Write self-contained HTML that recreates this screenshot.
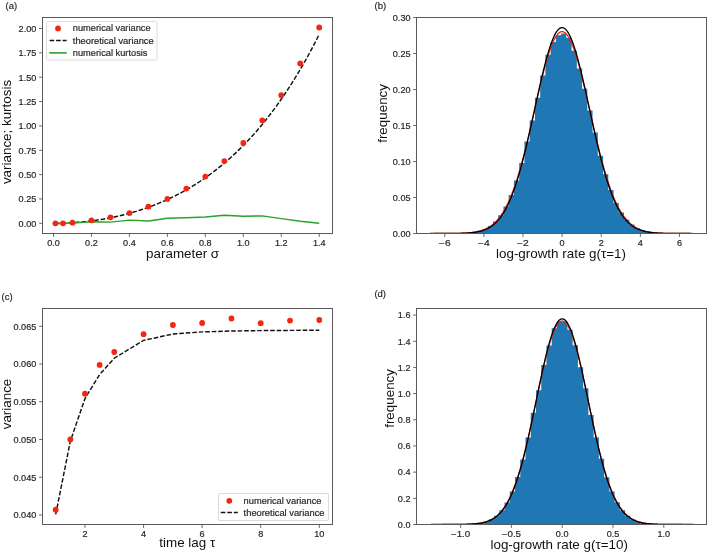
<!DOCTYPE html>
<html><head><meta charset="utf-8"><title>figure</title>
<style>html,body{margin:0;padding:0;background:#fff;overflow:hidden} svg{display:block;will-change:transform} text{font-family:"Liberation Sans",sans-serif}</style>
</head><body>
<svg width="708" height="554" viewBox="0 0 708 554" font-family="Liberation Sans, sans-serif">
<rect width="708" height="554" fill="#ffffff"/>
<defs><clipPath id="cb"><rect x="416.5" y="17.5" width="290" height="216"/></clipPath><clipPath id="cd"><rect x="416.5" y="308.5" width="290" height="216"/></clipPath></defs>
<polyline points="55.40,223.29 57.61,223.27 59.83,223.23 62.05,223.18 64.27,223.11 66.48,223.02 68.70,222.92 70.92,222.80 73.13,222.66 75.35,222.51 77.57,222.34 79.78,222.15 82.00,221.95 84.22,221.73 86.44,221.49 88.65,221.24 90.87,220.97 93.09,220.68 95.30,220.37 97.52,220.05 99.74,219.71 101.95,219.35 104.17,218.97 106.39,218.57 108.61,218.16 110.82,217.72 113.04,217.27 115.26,216.80 117.47,216.31 119.69,215.80 121.91,215.27 124.12,214.72 126.34,214.15 128.56,213.56 130.78,212.94 132.99,212.31 135.21,211.66 137.43,210.98 139.64,210.28 141.86,209.56 144.08,208.82 146.29,208.05 148.51,207.26 150.73,206.45 152.95,205.61 155.16,204.75 157.38,203.86 159.60,202.95 161.81,202.02 164.03,201.05 166.25,200.06 168.46,199.05 170.68,198.00 172.90,196.93 175.12,195.83 177.33,194.71 179.55,193.55 181.77,192.36 183.98,191.15 186.20,189.90 188.42,188.62 190.63,187.31 192.85,185.97 195.07,184.60 197.29,183.19 199.50,181.75 201.72,180.28 203.94,178.77 206.15,177.22 208.37,175.64 210.59,174.02 212.80,172.37 215.02,170.68 217.24,168.95 219.46,167.18 221.67,165.37 223.89,163.52 226.11,161.63 228.32,159.69 230.54,157.72 232.76,155.70 234.97,153.64 237.19,151.53 239.41,149.38 241.63,147.18 243.84,144.93 246.06,142.64 248.28,140.30 250.49,137.91 252.71,135.46 254.93,132.97 257.14,130.43 259.36,127.83 261.58,125.18 263.80,122.48 266.01,119.72 268.23,116.90 270.45,114.03 272.66,111.10 274.88,108.11 277.10,105.06 279.31,101.95 281.53,98.78 283.75,95.54 285.97,92.24 288.18,88.88 290.40,85.45 292.62,81.96 294.83,78.39 297.05,74.76 299.27,71.06 301.48,67.28 303.70,63.44 305.92,59.52 308.14,55.52 310.35,51.45 312.57,47.31 314.79,43.08 317.00,38.78 319.22,34.40" fill="none" stroke="#111" stroke-width="1.45" stroke-dasharray="4.6 1.9"/>
<polyline points="55.40,223.70 62.99,223.50 72.48,223.00 91.46,221.70 110.44,222.10 129.42,220.10 148.40,221.00 167.38,218.30 186.36,217.70 205.34,217.00 224.32,215.30 243.30,216.30 262.28,215.90 281.26,218.60 300.24,221.20 319.22,223.30" fill="none" stroke="#2ca02c" stroke-width="1.45" stroke-linejoin="round"/>
<circle cx="55.40" cy="223.30" r="2.9" fill="#f5260f"/>
<circle cx="62.99" cy="223.30" r="2.9" fill="#f5260f"/>
<circle cx="72.48" cy="222.70" r="2.9" fill="#f5260f"/>
<circle cx="91.46" cy="220.30" r="2.9" fill="#f5260f"/>
<circle cx="110.44" cy="217.30" r="2.9" fill="#f5260f"/>
<circle cx="129.42" cy="213.10" r="2.9" fill="#f5260f"/>
<circle cx="148.40" cy="206.70" r="2.9" fill="#f5260f"/>
<circle cx="167.38" cy="198.90" r="2.9" fill="#f5260f"/>
<circle cx="186.36" cy="188.60" r="2.9" fill="#f5260f"/>
<circle cx="205.34" cy="176.60" r="2.9" fill="#f5260f"/>
<circle cx="224.32" cy="161.10" r="2.9" fill="#f5260f"/>
<circle cx="243.30" cy="143.00" r="2.9" fill="#f5260f"/>
<circle cx="262.28" cy="120.30" r="2.9" fill="#f5260f"/>
<circle cx="281.26" cy="95.20" r="2.9" fill="#f5260f"/>
<circle cx="300.24" cy="63.50" r="2.9" fill="#f5260f"/>
<circle cx="319.22" cy="27.50" r="2.9" fill="#f5260f"/>
<rect x="42.5" y="17.5" width="290.0" height="216.0" fill="none" stroke="#5a5a5a" stroke-width="1"/>
<line x1="39.10" y1="223.30" x2="42.50" y2="223.30" stroke="#5a5a5a" stroke-width="0.9"/>
<text x="18.60" y="226.60" font-size="8.35" textLength="17.70" lengthAdjust="spacingAndGlyphs" fill="#262626" stroke="#262626" stroke-width="0.18">0.00</text>
<line x1="39.10" y1="198.95" x2="42.50" y2="198.95" stroke="#5a5a5a" stroke-width="0.9"/>
<text x="18.60" y="202.25" font-size="8.35" textLength="17.70" lengthAdjust="spacingAndGlyphs" fill="#262626" stroke="#262626" stroke-width="0.18">0.25</text>
<line x1="39.10" y1="174.60" x2="42.50" y2="174.60" stroke="#5a5a5a" stroke-width="0.9"/>
<text x="18.60" y="177.90" font-size="8.35" textLength="17.70" lengthAdjust="spacingAndGlyphs" fill="#262626" stroke="#262626" stroke-width="0.18">0.50</text>
<line x1="39.10" y1="150.25" x2="42.50" y2="150.25" stroke="#5a5a5a" stroke-width="0.9"/>
<text x="18.60" y="153.55" font-size="8.35" textLength="17.70" lengthAdjust="spacingAndGlyphs" fill="#262626" stroke="#262626" stroke-width="0.18">0.75</text>
<line x1="39.10" y1="125.90" x2="42.50" y2="125.90" stroke="#5a5a5a" stroke-width="0.9"/>
<text x="18.60" y="129.20" font-size="8.35" textLength="17.70" lengthAdjust="spacingAndGlyphs" fill="#262626" stroke="#262626" stroke-width="0.18">1.00</text>
<line x1="39.10" y1="101.55" x2="42.50" y2="101.55" stroke="#5a5a5a" stroke-width="0.9"/>
<text x="18.60" y="104.85" font-size="8.35" textLength="17.70" lengthAdjust="spacingAndGlyphs" fill="#262626" stroke="#262626" stroke-width="0.18">1.25</text>
<line x1="39.10" y1="77.20" x2="42.50" y2="77.20" stroke="#5a5a5a" stroke-width="0.9"/>
<text x="18.60" y="80.50" font-size="8.35" textLength="17.70" lengthAdjust="spacingAndGlyphs" fill="#262626" stroke="#262626" stroke-width="0.18">1.50</text>
<line x1="39.10" y1="52.85" x2="42.50" y2="52.85" stroke="#5a5a5a" stroke-width="0.9"/>
<text x="18.60" y="56.15" font-size="8.35" textLength="17.70" lengthAdjust="spacingAndGlyphs" fill="#262626" stroke="#262626" stroke-width="0.18">1.75</text>
<line x1="39.10" y1="28.50" x2="42.50" y2="28.50" stroke="#5a5a5a" stroke-width="0.9"/>
<text x="18.60" y="31.80" font-size="8.35" textLength="17.70" lengthAdjust="spacingAndGlyphs" fill="#262626" stroke="#262626" stroke-width="0.18">2.00</text>
<line x1="53.50" y1="233.50" x2="53.50" y2="236.90" stroke="#5a5a5a" stroke-width="0.9"/>
<text x="47.18" y="246.20" font-size="8.35" textLength="12.64" lengthAdjust="spacingAndGlyphs" fill="#262626" stroke="#262626" stroke-width="0.18">0.0</text>
<line x1="91.46" y1="233.50" x2="91.46" y2="236.90" stroke="#5a5a5a" stroke-width="0.9"/>
<text x="85.14" y="246.20" font-size="8.35" textLength="12.64" lengthAdjust="spacingAndGlyphs" fill="#262626" stroke="#262626" stroke-width="0.18">0.2</text>
<line x1="129.42" y1="233.50" x2="129.42" y2="236.90" stroke="#5a5a5a" stroke-width="0.9"/>
<text x="123.10" y="246.20" font-size="8.35" textLength="12.64" lengthAdjust="spacingAndGlyphs" fill="#262626" stroke="#262626" stroke-width="0.18">0.4</text>
<line x1="167.38" y1="233.50" x2="167.38" y2="236.90" stroke="#5a5a5a" stroke-width="0.9"/>
<text x="161.06" y="246.20" font-size="8.35" textLength="12.64" lengthAdjust="spacingAndGlyphs" fill="#262626" stroke="#262626" stroke-width="0.18">0.6</text>
<line x1="205.34" y1="233.50" x2="205.34" y2="236.90" stroke="#5a5a5a" stroke-width="0.9"/>
<text x="199.02" y="246.20" font-size="8.35" textLength="12.64" lengthAdjust="spacingAndGlyphs" fill="#262626" stroke="#262626" stroke-width="0.18">0.8</text>
<line x1="243.30" y1="233.50" x2="243.30" y2="236.90" stroke="#5a5a5a" stroke-width="0.9"/>
<text x="236.98" y="246.20" font-size="8.35" textLength="12.64" lengthAdjust="spacingAndGlyphs" fill="#262626" stroke="#262626" stroke-width="0.18">1.0</text>
<line x1="281.26" y1="233.50" x2="281.26" y2="236.90" stroke="#5a5a5a" stroke-width="0.9"/>
<text x="274.94" y="246.20" font-size="8.35" textLength="12.64" lengthAdjust="spacingAndGlyphs" fill="#262626" stroke="#262626" stroke-width="0.18">1.2</text>
<line x1="319.22" y1="233.50" x2="319.22" y2="236.90" stroke="#5a5a5a" stroke-width="0.9"/>
<text x="312.90" y="246.20" font-size="8.35" textLength="12.64" lengthAdjust="spacingAndGlyphs" fill="#262626" stroke="#262626" stroke-width="0.18">1.4</text>
<rect x="46.5" y="21.5" width="110.5" height="38.5" rx="1.5" fill="#fff" fill-opacity="0.8" stroke="#d6d6d6" stroke-width="0.9"/>
<circle cx="58.0" cy="28.4" r="2.9" fill="#f5260f"/>
<line x1="49.6" y1="40.5" x2="66.6" y2="40.5" stroke="#111" stroke-width="1.45" stroke-dasharray="4.6 1.9"/>
<line x1="49.3" y1="52.9" x2="66.8" y2="52.9" stroke="#2ca02c" stroke-width="1.6"/>
<text x="72.80" y="31.20" font-size="8.5" textLength="77.84" lengthAdjust="spacingAndGlyphs" fill="#262626" stroke="#262626" stroke-width="0.18">numerical variance</text>
<text x="72.80" y="43.50" font-size="8.5" textLength="80.93" lengthAdjust="spacingAndGlyphs" fill="#262626" stroke="#262626" stroke-width="0.18">theoretical variance</text>
<text x="72.80" y="55.80" font-size="8.5" textLength="74.69" lengthAdjust="spacingAndGlyphs" fill="#262626" stroke="#262626" stroke-width="0.18">numerical kurtosis</text>
<text x="10.9" y="132" font-size="13.4" text-anchor="middle" transform="rotate(-90 10.9 132)" fill="#111">variance; kurtosis</text>
<text x="182.6" y="258.4" font-size="13.4" text-anchor="middle" fill="#111">parameter σ</text>
<text x="5.6" y="8.9" font-size="9.5" fill="#222" stroke="#222" stroke-width="0.15">(a)</text>
<g clip-path="url(#cb)">
<path d="M430.07,233.50 L430.07,233.50 L435.31,233.50 L435.31,233.49 L440.55,233.49 L440.55,233.48 L445.80,233.48 L445.80,233.45 L451.04,233.45 L451.04,233.39 L456.28,233.39 L456.28,233.28 L461.52,233.28 L461.52,233.07 L466.76,233.07 L466.76,232.69 L472.01,232.69 L472.01,232.01 L477.25,232.01 L477.25,230.86 L482.49,230.86 L482.49,229.02 L487.73,229.02 L487.73,226.02 L492.97,226.02 L492.97,221.61 L498.22,221.61 L498.22,215.15 L503.46,215.15 L503.46,206.56 L508.70,206.56 L508.70,195.04 L513.94,195.04 L513.94,180.40 L519.19,180.40 L519.19,163.08 L524.43,163.08 L524.43,141.42 L529.67,141.42 L529.67,120.44 L534.91,120.44 L534.91,97.85 L540.15,97.85 L540.15,75.38 L545.40,75.38 L545.40,54.81 L550.64,54.81 L550.64,41.95 L555.88,41.95 L555.88,35.28 L561.12,35.28 L561.12,33.60 L566.36,33.60 L566.36,37.68 L571.61,37.68 L571.61,50.65 L576.85,50.65 L576.85,68.50 L582.09,68.50 L582.09,88.76 L587.33,88.76 L587.33,110.61 L592.57,110.61 L592.57,132.62 L597.82,132.62 L597.82,155.65 L603.06,155.65 L603.06,174.15 L608.30,174.15 L608.30,190.03 L613.54,190.03 L613.54,203.03 L618.78,203.03 L618.78,212.49 L624.03,212.49 L624.03,219.65 L629.27,219.65 L629.27,224.56 L634.51,224.56 L634.51,228.04 L639.75,228.04 L639.75,230.29 L645.00,230.29 L645.00,231.64 L650.24,231.64 L650.24,232.47 L655.48,232.47 L655.48,232.96 L660.72,232.96 L660.72,233.22 L665.96,233.22 L665.96,233.36 L671.21,233.36 L671.21,233.43 L676.45,233.43 L676.45,233.47 L681.69,233.47 L681.69,233.49 L686.93,233.49 L686.93,233.49 L692.17,233.49 L692.17,233.50 Z" fill="#1f77b4"/>
<polyline points="430.07,233.50 430.95,233.50 431.82,233.50 432.70,233.50 433.58,233.50 434.45,233.49 435.33,233.49 436.21,233.49 437.08,233.49 437.96,233.49 438.84,233.49 439.71,233.49 440.59,233.49 441.47,233.48 442.34,233.48 443.22,233.48 444.10,233.47 444.97,233.47 445.85,233.47 446.73,233.46 447.60,233.46 448.48,233.45 449.36,233.44 450.23,233.44 451.11,233.43 451.99,233.42 452.86,233.41 453.74,233.40 454.61,233.38 455.49,233.37 456.37,233.35 457.24,233.33 458.12,233.31 459.00,233.29 459.87,233.26 460.75,233.23 461.63,233.20 462.50,233.17 463.38,233.13 464.26,233.08 465.13,233.03 466.01,232.98 466.89,232.92 467.76,232.85 468.64,232.78 469.52,232.70 470.39,232.61 471.27,232.52 472.15,232.41 473.02,232.29 473.90,232.17 474.78,232.03 475.65,231.88 476.53,231.71 477.41,231.53 478.28,231.33 479.16,231.12 480.04,230.89 480.91,230.63 481.79,230.36 482.67,230.06 483.54,229.74 484.42,229.39 485.30,229.02 486.17,228.61 487.05,228.18 487.93,227.71 488.80,227.20 489.68,226.66 490.56,226.08 491.43,225.46 492.31,224.79 493.19,224.08 494.06,223.33 494.94,222.52 495.82,221.66 496.69,220.74 497.57,219.77 498.44,218.73 499.32,217.64 500.20,216.48 501.07,215.25 501.95,213.96 502.83,212.59 503.70,211.15 504.58,209.64 505.46,208.04 506.33,206.37 507.21,204.62 508.09,202.79 508.96,200.87 509.84,198.86 510.72,196.77 511.59,194.59 512.47,192.32 513.35,189.97 514.22,187.52 515.10,184.98 515.98,182.36 516.85,179.65 517.73,176.85 518.61,173.96 519.48,170.99 520.36,167.93 521.24,164.79 522.11,161.58 522.99,158.28 523.87,154.92 524.74,151.49 525.62,147.99 526.50,144.43 527.37,140.81 528.25,137.15 529.13,133.43 530.00,129.68 530.88,125.90 531.76,122.08 532.63,118.25 533.51,114.40 534.39,110.54 535.26,106.69 536.14,102.84 537.02,99.02 537.89,95.21 538.77,91.44 539.65,87.72 540.52,84.04 541.40,80.42 542.28,76.87 543.15,73.40 544.03,70.01 544.90,66.71 545.78,63.52 546.66,60.44 547.53,57.47 548.41,54.64 549.29,51.94 550.16,49.38 551.04,46.97 551.92,44.71 552.79,42.62 553.67,40.69 554.55,38.94 555.42,37.37 556.30,35.98 557.18,34.78 558.05,33.77 558.93,32.95 559.81,32.33 560.68,31.91 561.56,31.68 562.44,31.66 563.31,31.84 564.19,32.21 565.07,32.79 565.94,33.56 566.82,34.53 567.70,35.69 568.57,37.03 569.45,38.56 570.33,40.27 571.20,42.16 572.08,44.21 572.96,46.43 573.83,48.81 574.71,51.33 575.59,54.00 576.46,56.81 577.34,59.74 578.22,62.80 579.09,65.96 579.97,69.24 580.85,72.60 581.72,76.06 582.60,79.59 583.48,83.20 584.35,86.86 585.23,90.58 586.11,94.34 586.98,98.13 587.86,101.96 588.73,105.80 589.61,109.65 590.49,113.51 591.36,117.36 592.24,121.20 593.12,125.02 593.99,128.81 594.87,132.57 595.75,136.29 596.62,139.97 597.50,143.60 598.38,147.17 599.25,150.68 600.13,154.13 601.01,157.51 601.88,160.82 602.76,164.06 603.64,167.21 604.51,170.29 605.39,173.28 606.27,176.18 607.14,179.01 608.02,181.74 608.90,184.38 609.77,186.94 610.65,189.41 611.53,191.78 612.40,194.07 613.28,196.27 614.16,198.39 615.03,200.41 615.91,202.35 616.79,204.20 617.66,205.98 618.54,207.67 619.42,209.28 620.29,210.81 621.17,212.26 622.05,213.65 622.92,214.96 623.80,216.20 624.68,217.37 625.55,218.48 626.43,219.53 627.31,220.52 628.18,221.45 629.06,222.32 629.94,223.14 630.81,223.91 631.69,224.63 632.57,225.31 633.44,225.94 634.32,226.53 635.19,227.08 636.07,227.59 636.95,228.07 637.82,228.51 638.70,228.93 639.58,229.31 640.45,229.66 641.33,229.99 642.21,230.29 643.08,230.57 643.96,230.83 644.84,231.07 645.71,231.28 646.59,231.49 647.47,231.67 648.34,231.84 649.22,231.99 650.10,232.14 650.97,232.27 651.85,232.39 652.73,232.49 653.60,232.59 654.48,232.68 655.36,232.76 656.23,232.84 657.11,232.90 657.99,232.97 658.86,233.02 659.74,233.07 660.62,233.12 661.49,233.16 662.37,233.19 663.25,233.23 664.12,233.26 665.00,233.28 665.88,233.31 666.75,233.33 667.63,233.35 668.51,233.36 669.38,233.38 670.26,233.39 671.14,233.41 672.01,233.42 672.89,233.43 673.77,233.44 674.64,233.44 675.52,233.45 676.40,233.46 677.27,233.46 678.15,233.47 679.02,233.47 679.90,233.47 680.78,233.48 681.65,233.48 682.53,233.48 683.41,233.48 684.28,233.49 685.16,233.49 686.04,233.49 686.91,233.49 687.79,233.49 688.67,233.49 689.54,233.49 690.42,233.50 691.30,233.50 692.17,233.50" fill="none" stroke="#f0200a" stroke-width="1.25"/>
<polyline points="430.07,233.50 430.95,233.50 431.82,233.50 432.70,233.50 433.58,233.50 434.45,233.50 435.33,233.50 436.21,233.50 437.08,233.49 437.96,233.49 438.84,233.49 439.71,233.49 440.59,233.49 441.47,233.49 442.34,233.49 443.22,233.48 444.10,233.48 444.97,233.48 445.85,233.48 446.73,233.47 447.60,233.47 448.48,233.46 449.36,233.46 450.23,233.45 451.11,233.45 451.99,233.44 452.86,233.43 453.74,233.42 454.61,233.41 455.49,233.40 456.37,233.39 457.24,233.37 458.12,233.36 459.00,233.34 459.87,233.32 460.75,233.29 461.63,233.27 462.50,233.24 463.38,233.20 464.26,233.17 465.13,233.13 466.01,233.08 466.89,233.03 467.76,232.98 468.64,232.92 469.52,232.85 470.39,232.77 471.27,232.69 472.15,232.60 473.02,232.50 473.90,232.39 474.78,232.27 475.65,232.14 476.53,231.99 477.41,231.83 478.28,231.66 479.16,231.47 480.04,231.26 480.91,231.04 481.79,230.79 482.67,230.53 483.54,230.24 484.42,229.92 485.30,229.58 486.17,229.21 487.05,228.81 487.93,228.38 488.80,227.92 489.68,227.42 490.56,226.88 491.43,226.30 492.31,225.68 493.19,225.02 494.06,224.31 494.94,223.54 495.82,222.73 496.69,221.86 497.57,220.94 498.44,219.95 499.32,218.90 500.20,217.79 501.07,216.61 501.95,215.37 502.83,214.04 503.70,212.65 504.58,211.18 505.46,209.63 506.33,207.99 507.21,206.27 508.09,204.47 508.96,202.58 509.84,200.60 510.72,198.53 511.59,196.37 512.47,194.12 513.35,191.77 514.22,189.33 515.10,186.79 515.98,184.16 516.85,181.43 517.73,178.61 518.61,175.70 519.48,172.69 520.36,169.59 521.24,166.41 522.11,163.14 522.99,159.79 523.87,156.35 524.74,152.84 525.62,149.26 526.50,145.61 527.37,141.89 528.25,138.12 529.13,134.29 530.00,130.42 530.88,126.50 531.76,122.55 532.63,118.58 533.51,114.58 534.39,110.57 535.26,106.56 536.14,102.55 537.02,98.56 537.89,94.58 538.77,90.64 539.65,86.74 540.52,82.88 541.40,79.09 542.28,75.36 543.15,71.71 544.03,68.14 544.90,64.68 545.78,61.31 546.66,58.06 547.53,54.94 548.41,51.94 549.29,49.09 550.16,46.38 551.04,43.83 551.92,41.44 552.79,39.23 553.67,37.19 554.55,35.33 555.42,33.67 556.30,32.19 557.18,30.92 558.05,29.85 558.93,28.98 559.81,28.32 560.68,27.87 561.56,27.63 562.44,27.61 563.31,27.80 564.19,28.20 565.07,28.81 565.94,29.63 566.82,30.65 567.70,31.88 568.57,33.31 569.45,34.93 570.33,36.74 571.20,38.74 572.08,40.92 572.96,43.26 573.83,45.78 574.71,48.45 575.59,51.27 576.46,54.23 577.34,57.33 578.22,60.55 579.09,63.89 579.97,67.33 580.85,70.88 581.72,74.51 582.60,78.22 583.48,82.00 584.35,85.84 585.23,89.73 586.11,93.67 586.98,97.64 587.86,101.63 588.73,105.63 589.61,109.64 590.49,113.65 591.36,117.65 592.24,121.63 593.12,125.59 593.99,129.51 594.87,133.40 595.75,137.24 596.62,141.02 597.50,144.75 598.38,148.42 599.25,152.02 600.13,155.55 601.01,159.00 601.88,162.37 602.76,165.66 603.64,168.87 604.51,171.98 605.39,175.01 606.27,177.94 607.14,180.79 608.02,183.53 608.90,186.19 609.77,188.75 610.65,191.21 611.53,193.58 612.40,195.86 613.28,198.04 614.16,200.13 615.03,202.13 615.91,204.04 616.79,205.87 617.66,207.60 618.54,209.25 619.42,210.83 620.29,212.32 621.17,213.73 622.05,215.07 622.92,216.33 623.80,217.53 624.68,218.65 625.55,219.71 626.43,220.71 627.31,221.65 628.18,222.53 629.06,223.36 629.94,224.13 630.81,224.86 631.69,225.53 632.57,226.16 633.44,226.75 634.32,227.30 635.19,227.81 636.07,228.28 636.95,228.72 637.82,229.12 638.70,229.50 639.58,229.84 640.45,230.17 641.33,230.46 642.21,230.73 643.08,230.98 643.96,231.21 644.84,231.42 645.71,231.62 646.59,231.80 647.47,231.96 648.34,232.11 649.22,232.24 650.10,232.36 650.97,232.48 651.85,232.58 652.73,232.67 653.60,232.76 654.48,232.83 655.36,232.90 656.23,232.96 657.11,233.02 657.99,233.07 658.86,233.12 659.74,233.16 660.62,233.20 661.49,233.23 662.37,233.26 663.25,233.29 664.12,233.31 665.00,233.33 665.88,233.35 666.75,233.37 667.63,233.38 668.51,233.40 669.38,233.41 670.26,233.42 671.14,233.43 672.01,233.44 672.89,233.45 673.77,233.45 674.64,233.46 675.52,233.46 676.40,233.47 677.27,233.47 678.15,233.48 679.02,233.48 679.90,233.48 680.78,233.48 681.65,233.49 682.53,233.49 683.41,233.49 684.28,233.49 685.16,233.49 686.04,233.49 686.91,233.49 687.79,233.49 688.67,233.50 689.54,233.50 690.42,233.50 691.30,233.50 692.17,233.50" fill="none" stroke="#000" stroke-width="1.3"/>
</g>
<rect x="416.5" y="17.5" width="290.0" height="216.0" fill="none" stroke="#5a5a5a" stroke-width="1"/>
<line x1="413.10" y1="233.50" x2="416.50" y2="233.50" stroke="#5a5a5a" stroke-width="0.9"/>
<text x="392.80" y="236.80" font-size="8.35" textLength="17.70" lengthAdjust="spacingAndGlyphs" fill="#262626" stroke="#262626" stroke-width="0.18">0.00</text>
<line x1="413.10" y1="197.50" x2="416.50" y2="197.50" stroke="#5a5a5a" stroke-width="0.9"/>
<text x="392.80" y="200.80" font-size="8.35" textLength="17.70" lengthAdjust="spacingAndGlyphs" fill="#262626" stroke="#262626" stroke-width="0.18">0.05</text>
<line x1="413.10" y1="161.50" x2="416.50" y2="161.50" stroke="#5a5a5a" stroke-width="0.9"/>
<text x="392.80" y="164.80" font-size="8.35" textLength="17.70" lengthAdjust="spacingAndGlyphs" fill="#262626" stroke="#262626" stroke-width="0.18">0.10</text>
<line x1="413.10" y1="125.50" x2="416.50" y2="125.50" stroke="#5a5a5a" stroke-width="0.9"/>
<text x="392.80" y="128.80" font-size="8.35" textLength="17.70" lengthAdjust="spacingAndGlyphs" fill="#262626" stroke="#262626" stroke-width="0.18">0.15</text>
<line x1="413.10" y1="89.50" x2="416.50" y2="89.50" stroke="#5a5a5a" stroke-width="0.9"/>
<text x="392.80" y="92.80" font-size="8.35" textLength="17.70" lengthAdjust="spacingAndGlyphs" fill="#262626" stroke="#262626" stroke-width="0.18">0.20</text>
<line x1="413.10" y1="53.50" x2="416.50" y2="53.50" stroke="#5a5a5a" stroke-width="0.9"/>
<text x="392.80" y="56.80" font-size="8.35" textLength="17.70" lengthAdjust="spacingAndGlyphs" fill="#262626" stroke="#262626" stroke-width="0.18">0.25</text>
<line x1="413.10" y1="17.50" x2="416.50" y2="17.50" stroke="#5a5a5a" stroke-width="0.9"/>
<text x="392.80" y="20.80" font-size="8.35" textLength="17.70" lengthAdjust="spacingAndGlyphs" fill="#262626" stroke="#262626" stroke-width="0.18">0.30</text>
<line x1="444.74" y1="233.50" x2="444.74" y2="236.90" stroke="#5a5a5a" stroke-width="0.9"/>
<text x="438.88" y="246.20" font-size="8.35" textLength="11.72" lengthAdjust="spacingAndGlyphs" fill="#262626" stroke="#262626" stroke-width="0.18">−6</text>
<line x1="483.86" y1="233.50" x2="483.86" y2="236.90" stroke="#5a5a5a" stroke-width="0.9"/>
<text x="478.00" y="246.20" font-size="8.35" textLength="11.72" lengthAdjust="spacingAndGlyphs" fill="#262626" stroke="#262626" stroke-width="0.18">−4</text>
<line x1="522.98" y1="233.50" x2="522.98" y2="236.90" stroke="#5a5a5a" stroke-width="0.9"/>
<text x="517.12" y="246.20" font-size="8.35" textLength="11.72" lengthAdjust="spacingAndGlyphs" fill="#262626" stroke="#262626" stroke-width="0.18">−2</text>
<line x1="562.10" y1="233.50" x2="562.10" y2="236.90" stroke="#5a5a5a" stroke-width="0.9"/>
<text x="559.57" y="246.20" font-size="8.35" textLength="5.06" lengthAdjust="spacingAndGlyphs" fill="#262626" stroke="#262626" stroke-width="0.18">0</text>
<line x1="601.22" y1="233.50" x2="601.22" y2="236.90" stroke="#5a5a5a" stroke-width="0.9"/>
<text x="598.69" y="246.20" font-size="8.35" textLength="5.06" lengthAdjust="spacingAndGlyphs" fill="#262626" stroke="#262626" stroke-width="0.18">2</text>
<line x1="640.34" y1="233.50" x2="640.34" y2="236.90" stroke="#5a5a5a" stroke-width="0.9"/>
<text x="637.81" y="246.20" font-size="8.35" textLength="5.06" lengthAdjust="spacingAndGlyphs" fill="#262626" stroke="#262626" stroke-width="0.18">4</text>
<line x1="679.46" y1="233.50" x2="679.46" y2="236.90" stroke="#5a5a5a" stroke-width="0.9"/>
<text x="676.93" y="246.20" font-size="8.35" textLength="5.06" lengthAdjust="spacingAndGlyphs" fill="#262626" stroke="#262626" stroke-width="0.18">6</text>
<text x="386.9" y="113.4" font-size="13.4" text-anchor="middle" transform="rotate(-90 386.9 113.4)" fill="#111">frequency</text>
<text x="561" y="258.4" font-size="13.4" text-anchor="middle" fill="#111">log-growth rate g(τ=1)</text>
<text x="374.6" y="8.6" font-size="9.5" fill="#222" stroke="#222" stroke-width="0.15">(b)</text>
<polyline points="55.70,514.40 70.34,441.20 84.99,398.50 99.64,374.50 114.28,358.20 143.57,340.40 172.86,334.00 202.15,331.90 231.44,331.00 260.73,330.60 290.02,330.40 319.31,330.20" fill="none" stroke="#111" stroke-width="1.45" stroke-dasharray="4.6 1.9"/>
<circle cx="55.70" cy="509.70" r="2.9" fill="#f5260f"/>
<circle cx="70.34" cy="439.40" r="2.9" fill="#f5260f"/>
<circle cx="84.99" cy="393.70" r="2.9" fill="#f5260f"/>
<circle cx="99.64" cy="364.90" r="2.9" fill="#f5260f"/>
<circle cx="114.28" cy="352.00" r="2.9" fill="#f5260f"/>
<circle cx="143.57" cy="334.20" r="2.9" fill="#f5260f"/>
<circle cx="172.86" cy="325.00" r="2.9" fill="#f5260f"/>
<circle cx="202.15" cy="323.00" r="2.9" fill="#f5260f"/>
<circle cx="231.44" cy="318.50" r="2.9" fill="#f5260f"/>
<circle cx="260.73" cy="323.20" r="2.9" fill="#f5260f"/>
<circle cx="290.02" cy="320.60" r="2.9" fill="#f5260f"/>
<circle cx="319.31" cy="320.00" r="2.9" fill="#f5260f"/>
<rect x="42.5" y="308.5" width="290.0" height="216.0" fill="none" stroke="#5a5a5a" stroke-width="1"/>
<line x1="39.10" y1="515.00" x2="42.50" y2="515.00" stroke="#5a5a5a" stroke-width="0.9"/>
<text x="13.54" y="518.30" font-size="8.35" textLength="22.76" lengthAdjust="spacingAndGlyphs" fill="#262626" stroke="#262626" stroke-width="0.18">0.040</text>
<line x1="39.10" y1="477.26" x2="42.50" y2="477.26" stroke="#5a5a5a" stroke-width="0.9"/>
<text x="13.54" y="480.56" font-size="8.35" textLength="22.76" lengthAdjust="spacingAndGlyphs" fill="#262626" stroke="#262626" stroke-width="0.18">0.045</text>
<line x1="39.10" y1="439.52" x2="42.50" y2="439.52" stroke="#5a5a5a" stroke-width="0.9"/>
<text x="13.54" y="442.82" font-size="8.35" textLength="22.76" lengthAdjust="spacingAndGlyphs" fill="#262626" stroke="#262626" stroke-width="0.18">0.050</text>
<line x1="39.10" y1="401.78" x2="42.50" y2="401.78" stroke="#5a5a5a" stroke-width="0.9"/>
<text x="13.54" y="405.08" font-size="8.35" textLength="22.76" lengthAdjust="spacingAndGlyphs" fill="#262626" stroke="#262626" stroke-width="0.18">0.055</text>
<line x1="39.10" y1="364.04" x2="42.50" y2="364.04" stroke="#5a5a5a" stroke-width="0.9"/>
<text x="13.54" y="367.34" font-size="8.35" textLength="22.76" lengthAdjust="spacingAndGlyphs" fill="#262626" stroke="#262626" stroke-width="0.18">0.060</text>
<line x1="39.10" y1="326.30" x2="42.50" y2="326.30" stroke="#5a5a5a" stroke-width="0.9"/>
<text x="13.54" y="329.60" font-size="8.35" textLength="22.76" lengthAdjust="spacingAndGlyphs" fill="#262626" stroke="#262626" stroke-width="0.18">0.065</text>
<line x1="84.99" y1="524.50" x2="84.99" y2="527.90" stroke="#5a5a5a" stroke-width="0.9"/>
<text x="82.46" y="537.00" font-size="8.35" textLength="5.06" lengthAdjust="spacingAndGlyphs" fill="#262626" stroke="#262626" stroke-width="0.18">2</text>
<line x1="143.57" y1="524.50" x2="143.57" y2="527.90" stroke="#5a5a5a" stroke-width="0.9"/>
<text x="141.04" y="537.00" font-size="8.35" textLength="5.06" lengthAdjust="spacingAndGlyphs" fill="#262626" stroke="#262626" stroke-width="0.18">4</text>
<line x1="202.15" y1="524.50" x2="202.15" y2="527.90" stroke="#5a5a5a" stroke-width="0.9"/>
<text x="199.62" y="537.00" font-size="8.35" textLength="5.06" lengthAdjust="spacingAndGlyphs" fill="#262626" stroke="#262626" stroke-width="0.18">6</text>
<line x1="260.73" y1="524.50" x2="260.73" y2="527.90" stroke="#5a5a5a" stroke-width="0.9"/>
<text x="258.20" y="537.00" font-size="8.35" textLength="5.06" lengthAdjust="spacingAndGlyphs" fill="#262626" stroke="#262626" stroke-width="0.18">8</text>
<line x1="319.31" y1="524.50" x2="319.31" y2="527.90" stroke="#5a5a5a" stroke-width="0.9"/>
<text x="314.25" y="537.00" font-size="8.35" textLength="10.12" lengthAdjust="spacingAndGlyphs" fill="#262626" stroke="#262626" stroke-width="0.18">10</text>
<rect x="218.5" y="493.5" width="110" height="27" rx="1.5" fill="#fff" fill-opacity="0.8" stroke="#d6d6d6" stroke-width="0.9"/>
<circle cx="229.3" cy="500.8" r="2.9" fill="#f5260f"/>
<line x1="220.8" y1="512.6" x2="237.8" y2="512.6" stroke="#111" stroke-width="1.45" stroke-dasharray="4.6 1.9"/>
<text x="243.60" y="503.60" font-size="8.5" textLength="77.84" lengthAdjust="spacingAndGlyphs" fill="#262626" stroke="#262626" stroke-width="0.18">numerical variance</text>
<text x="243.60" y="515.60" font-size="8.5" textLength="80.93" lengthAdjust="spacingAndGlyphs" fill="#262626" stroke="#262626" stroke-width="0.18">theoretical variance</text>
<text x="10.9" y="404" font-size="13.4" text-anchor="middle" transform="rotate(-90 10.9 404)" fill="#111">variance</text>
<text x="187.3" y="547.4" font-size="13.4" text-anchor="middle" fill="#111">time lag τ</text>
<text x="1.6" y="299.9" font-size="9.5" fill="#222" stroke="#222" stroke-width="0.15">(c)</text>
<g clip-path="url(#cd)">
<path d="M431.14,524.50 L431.14,524.50 L436.38,524.50 L436.38,524.50 L441.62,524.50 L441.62,524.49 L446.86,524.49 L446.86,524.48 L452.11,524.48 L452.11,524.46 L457.35,524.46 L457.35,524.40 L462.59,524.40 L462.59,524.29 L467.83,524.29 L467.83,524.08 L473.08,524.08 L473.08,523.66 L478.32,523.66 L478.32,522.91 L483.56,522.91 L483.56,521.53 L488.80,521.53 L488.80,519.28 L494.05,519.28 L494.05,515.77 L499.29,515.77 L499.29,510.17 L504.53,510.17 L504.53,502.52 L509.77,502.52 L509.77,491.46 L515.02,491.46 L515.02,477.03 L520.26,477.03 L520.26,459.47 L525.50,459.47 L525.50,437.52 L530.74,437.52 L530.74,412.76 L535.99,412.76 L535.99,390.25 L541.23,390.25 L541.23,364.96 L546.47,364.96 L546.47,345.61 L551.71,345.61 L551.71,328.37 L556.96,328.37 L556.96,321.87 L562.20,321.87 L562.20,321.64 L567.44,321.64 L567.44,329.68 L572.69,329.68 L572.69,345.18 L577.93,345.18 L577.93,367.14 L583.17,367.14 L583.17,388.29 L588.41,388.29 L588.41,414.95 L593.66,414.95 L593.66,437.62 L598.90,437.62 L598.90,458.81 L604.14,458.81 L604.14,477.31 L609.38,477.31 L609.38,491.46 L614.63,491.46 L614.63,502.27 L619.87,502.27 L619.87,510.33 L625.11,510.33 L625.11,515.80 L630.35,515.80 L630.35,519.41 L635.60,519.41 L635.60,521.57 L640.84,521.57 L640.84,522.89 L646.08,522.89 L646.08,523.66 L651.32,523.66 L651.32,524.08 L656.57,524.08 L656.57,524.29 L661.81,524.29 L661.81,524.40 L667.05,524.40 L667.05,524.46 L672.29,524.46 L672.29,524.48 L677.54,524.48 L677.54,524.49 L682.78,524.49 L682.78,524.50 L688.02,524.50 L688.02,524.50 L693.26,524.50 L693.26,524.50 Z" fill="#1f77b4"/>
<polyline points="431.14,524.50 432.01,524.50 432.89,524.50 433.77,524.50 434.64,524.50 435.52,524.50 436.40,524.50 437.27,524.50 438.15,524.50 439.03,524.50 439.90,524.50 440.78,524.50 441.66,524.50 442.53,524.49 443.41,524.49 444.29,524.49 445.16,524.49 446.04,524.49 446.92,524.49 447.79,524.49 448.67,524.48 449.55,524.48 450.42,524.48 451.30,524.48 452.18,524.47 453.05,524.47 453.93,524.46 454.81,524.46 455.68,524.45 456.56,524.44 457.44,524.44 458.31,524.43 459.19,524.42 460.07,524.40 460.94,524.39 461.82,524.38 462.70,524.36 463.57,524.34 464.45,524.32 465.33,524.29 466.20,524.27 467.08,524.24 467.96,524.20 468.83,524.16 469.71,524.12 470.59,524.07 471.46,524.02 472.34,523.96 473.22,523.90 474.09,523.82 474.97,523.74 475.85,523.65 476.72,523.55 477.60,523.44 478.48,523.32 479.35,523.19 480.23,523.04 481.11,522.88 481.98,522.70 482.86,522.51 483.74,522.30 484.61,522.06 485.49,521.81 486.37,521.53 487.24,521.23 488.12,520.90 489.00,520.54 489.87,520.15 490.75,519.73 491.63,519.27 492.50,518.78 493.38,518.24 494.26,517.66 495.13,517.04 496.01,516.37 496.89,515.66 497.76,514.89 498.64,514.06 499.52,513.17 500.39,512.23 501.27,511.22 502.15,510.14 503.02,508.99 503.90,507.77 504.78,506.48 505.65,505.11 506.53,503.65 507.41,502.11 508.28,500.49 509.16,498.78 510.04,496.97 510.91,495.07 511.79,493.08 512.67,490.99 513.54,488.80 514.42,486.51 515.30,484.12 516.17,481.63 517.05,479.04 517.93,476.34 518.80,473.54 519.68,470.64 520.56,467.64 521.43,464.53 522.31,461.34 523.19,458.04 524.06,454.65 524.94,451.18 525.82,447.61 526.69,443.97 527.57,440.24 528.45,436.45 529.32,432.58 530.20,428.66 531.08,424.68 531.95,420.65 532.83,416.59 533.71,412.49 534.58,408.36 535.46,404.22 536.34,400.08 537.21,395.93 538.09,391.80 538.97,387.69 539.84,383.61 540.72,379.57 541.60,375.59 542.47,371.67 543.35,367.82 544.23,364.06 545.10,360.39 545.98,356.83 546.86,353.39 547.73,350.07 548.61,346.89 549.49,343.85 550.36,340.97 551.24,338.25 552.12,335.71 552.99,333.35 553.87,331.18 554.75,329.20 555.62,327.43 556.50,325.86 557.38,324.51 558.25,323.38 559.13,322.47 560.01,321.78 560.88,321.32 561.76,321.09 562.64,321.09 563.52,321.32 564.39,321.78 565.27,322.47 566.15,323.38 567.02,324.51 567.90,325.86 568.78,327.43 569.65,329.20 570.53,331.18 571.41,333.35 572.28,335.71 573.16,338.25 574.04,340.97 574.91,343.85 575.79,346.89 576.67,350.07 577.54,353.39 578.42,356.83 579.30,360.39 580.17,364.06 581.05,367.82 581.93,371.67 582.80,375.59 583.68,379.57 584.56,383.61 585.43,387.69 586.31,391.80 587.19,395.93 588.06,400.08 588.94,404.22 589.82,408.36 590.69,412.49 591.57,416.59 592.45,420.65 593.32,424.68 594.20,428.66 595.08,432.58 595.95,436.45 596.83,440.24 597.71,443.97 598.58,447.61 599.46,451.18 600.34,454.65 601.21,458.04 602.09,461.34 602.97,464.53 603.84,467.64 604.72,470.64 605.60,473.54 606.47,476.34 607.35,479.04 608.23,481.63 609.10,484.12 609.98,486.51 610.86,488.80 611.73,490.99 612.61,493.08 613.49,495.07 614.36,496.97 615.24,498.78 616.12,500.49 616.99,502.11 617.87,503.65 618.75,505.11 619.62,506.48 620.50,507.77 621.38,508.99 622.25,510.14 623.13,511.22 624.01,512.23 624.88,513.17 625.76,514.06 626.64,514.89 627.51,515.66 628.39,516.37 629.27,517.04 630.14,517.66 631.02,518.24 631.90,518.78 632.77,519.27 633.65,519.73 634.53,520.15 635.40,520.54 636.28,520.90 637.16,521.23 638.03,521.53 638.91,521.81 639.79,522.06 640.66,522.30 641.54,522.51 642.42,522.70 643.29,522.88 644.17,523.04 645.05,523.19 645.92,523.32 646.80,523.44 647.68,523.55 648.55,523.65 649.43,523.74 650.31,523.82 651.18,523.90 652.06,523.96 652.94,524.02 653.81,524.07 654.69,524.12 655.57,524.16 656.44,524.20 657.32,524.24 658.20,524.27 659.07,524.29 659.95,524.32 660.83,524.34 661.70,524.36 662.58,524.38 663.46,524.39 664.33,524.40 665.21,524.42 666.09,524.43 666.96,524.44 667.84,524.44 668.72,524.45 669.59,524.46 670.47,524.46 671.35,524.47 672.22,524.47 673.10,524.48 673.98,524.48 674.85,524.48 675.73,524.48 676.61,524.49 677.48,524.49 678.36,524.49 679.24,524.49 680.11,524.49 680.99,524.49 681.87,524.49 682.74,524.50 683.62,524.50 684.50,524.50 685.37,524.50 686.25,524.50 687.13,524.50 688.00,524.50 688.88,524.50 689.76,524.50 690.63,524.50 691.51,524.50 692.39,524.50 693.26,524.50" fill="none" stroke="#f0200a" stroke-width="1.25"/>
<polyline points="431.14,524.50 432.01,524.50 432.89,524.50 433.77,524.50 434.64,524.50 435.52,524.50 436.40,524.50 437.27,524.50 438.15,524.50 439.03,524.50 439.90,524.50 440.78,524.50 441.66,524.50 442.53,524.50 443.41,524.49 444.29,524.49 445.16,524.49 446.04,524.49 446.92,524.49 447.79,524.49 448.67,524.49 449.55,524.49 450.42,524.48 451.30,524.48 452.18,524.48 453.05,524.47 453.93,524.47 454.81,524.46 455.68,524.46 456.56,524.45 457.44,524.45 458.31,524.44 459.19,524.43 460.07,524.42 460.94,524.41 461.82,524.39 462.70,524.38 463.57,524.36 464.45,524.34 465.33,524.32 466.20,524.30 467.08,524.27 467.96,524.24 468.83,524.20 469.71,524.17 470.59,524.12 471.46,524.07 472.34,524.02 473.22,523.96 474.09,523.89 474.97,523.82 475.85,523.74 476.72,523.65 477.60,523.55 478.48,523.43 479.35,523.31 480.23,523.18 481.11,523.02 481.98,522.86 482.86,522.68 483.74,522.48 484.61,522.26 485.49,522.02 486.37,521.76 487.24,521.47 488.12,521.16 489.00,520.82 489.87,520.45 490.75,520.05 491.63,519.61 492.50,519.14 493.38,518.63 494.26,518.08 495.13,517.48 496.01,516.83 496.89,516.14 497.76,515.40 498.64,514.60 499.52,513.74 500.39,512.82 501.27,511.84 502.15,510.79 503.02,509.67 503.90,508.48 504.78,507.21 505.65,505.86 506.53,504.43 507.41,502.92 508.28,501.32 509.16,499.63 510.04,497.84 510.91,495.96 511.79,493.99 512.67,491.91 513.54,489.74 514.42,487.46 515.30,485.08 516.17,482.59 517.05,480.00 517.93,477.30 518.80,474.50 519.68,471.59 520.56,468.58 521.43,465.46 522.31,462.24 523.19,458.92 524.06,455.51 524.94,452.00 525.82,448.39 526.69,444.71 527.57,440.94 528.45,437.09 529.32,433.17 530.20,429.19 531.08,425.14 531.95,421.05 532.83,416.91 533.71,412.73 534.58,408.53 535.46,404.30 536.34,400.07 537.21,395.83 538.09,391.61 538.97,387.40 539.84,383.23 540.72,379.09 541.60,375.01 542.47,370.99 543.35,367.04 544.23,363.18 545.10,359.41 545.98,355.75 546.86,352.21 547.73,348.79 548.61,345.52 549.49,342.39 550.36,339.43 551.24,336.63 552.12,334.01 552.99,331.58 553.87,329.34 554.75,327.30 555.62,325.47 556.50,323.86 557.38,322.46 558.25,321.29 559.13,320.35 560.01,319.64 560.88,319.17 561.76,318.93 562.64,318.93 563.52,319.17 564.39,319.64 565.27,320.35 566.15,321.29 567.02,322.46 567.90,323.86 568.78,325.47 569.65,327.30 570.53,329.34 571.41,331.58 572.28,334.01 573.16,336.63 574.04,339.43 574.91,342.39 575.79,345.52 576.67,348.79 577.54,352.21 578.42,355.75 579.30,359.41 580.17,363.18 581.05,367.04 581.93,370.99 582.80,375.01 583.68,379.09 584.56,383.23 585.43,387.40 586.31,391.61 587.19,395.83 588.06,400.07 588.94,404.30 589.82,408.53 590.69,412.73 591.57,416.91 592.45,421.05 593.32,425.14 594.20,429.19 595.08,433.17 595.95,437.09 596.83,440.94 597.71,444.71 598.58,448.39 599.46,452.00 600.34,455.51 601.21,458.92 602.09,462.24 602.97,465.46 603.84,468.58 604.72,471.59 605.60,474.50 606.47,477.30 607.35,480.00 608.23,482.59 609.10,485.08 609.98,487.46 610.86,489.74 611.73,491.91 612.61,493.99 613.49,495.96 614.36,497.84 615.24,499.63 616.12,501.32 616.99,502.92 617.87,504.43 618.75,505.86 619.62,507.21 620.50,508.48 621.38,509.67 622.25,510.79 623.13,511.84 624.01,512.82 624.88,513.74 625.76,514.60 626.64,515.40 627.51,516.14 628.39,516.83 629.27,517.48 630.14,518.08 631.02,518.63 631.90,519.14 632.77,519.61 633.65,520.05 634.53,520.45 635.40,520.82 636.28,521.16 637.16,521.47 638.03,521.76 638.91,522.02 639.79,522.26 640.66,522.48 641.54,522.68 642.42,522.86 643.29,523.02 644.17,523.18 645.05,523.31 645.92,523.43 646.80,523.55 647.68,523.65 648.55,523.74 649.43,523.82 650.31,523.89 651.18,523.96 652.06,524.02 652.94,524.07 653.81,524.12 654.69,524.17 655.57,524.20 656.44,524.24 657.32,524.27 658.20,524.30 659.07,524.32 659.95,524.34 660.83,524.36 661.70,524.38 662.58,524.39 663.46,524.41 664.33,524.42 665.21,524.43 666.09,524.44 666.96,524.45 667.84,524.45 668.72,524.46 669.59,524.46 670.47,524.47 671.35,524.47 672.22,524.48 673.10,524.48 673.98,524.48 674.85,524.49 675.73,524.49 676.61,524.49 677.48,524.49 678.36,524.49 679.24,524.49 680.11,524.49 680.99,524.49 681.87,524.50 682.74,524.50 683.62,524.50 684.50,524.50 685.37,524.50 686.25,524.50 687.13,524.50 688.00,524.50 688.88,524.50 689.76,524.50 690.63,524.50 691.51,524.50 692.39,524.50 693.26,524.50" fill="none" stroke="#000" stroke-width="1.3"/>
</g>
<rect x="416.5" y="308.5" width="290.0" height="216.0" fill="none" stroke="#5a5a5a" stroke-width="1"/>
<line x1="413.10" y1="524.50" x2="416.50" y2="524.50" stroke="#5a5a5a" stroke-width="0.9"/>
<text x="397.86" y="527.80" font-size="8.35" textLength="12.64" lengthAdjust="spacingAndGlyphs" fill="#262626" stroke="#262626" stroke-width="0.18">0.0</text>
<line x1="413.10" y1="498.32" x2="416.50" y2="498.32" stroke="#5a5a5a" stroke-width="0.9"/>
<text x="397.86" y="501.62" font-size="8.35" textLength="12.64" lengthAdjust="spacingAndGlyphs" fill="#262626" stroke="#262626" stroke-width="0.18">0.2</text>
<line x1="413.10" y1="472.14" x2="416.50" y2="472.14" stroke="#5a5a5a" stroke-width="0.9"/>
<text x="397.86" y="475.44" font-size="8.35" textLength="12.64" lengthAdjust="spacingAndGlyphs" fill="#262626" stroke="#262626" stroke-width="0.18">0.4</text>
<line x1="413.10" y1="445.96" x2="416.50" y2="445.96" stroke="#5a5a5a" stroke-width="0.9"/>
<text x="397.86" y="449.26" font-size="8.35" textLength="12.64" lengthAdjust="spacingAndGlyphs" fill="#262626" stroke="#262626" stroke-width="0.18">0.6</text>
<line x1="413.10" y1="419.78" x2="416.50" y2="419.78" stroke="#5a5a5a" stroke-width="0.9"/>
<text x="397.86" y="423.08" font-size="8.35" textLength="12.64" lengthAdjust="spacingAndGlyphs" fill="#262626" stroke="#262626" stroke-width="0.18">0.8</text>
<line x1="413.10" y1="393.60" x2="416.50" y2="393.60" stroke="#5a5a5a" stroke-width="0.9"/>
<text x="397.86" y="396.90" font-size="8.35" textLength="12.64" lengthAdjust="spacingAndGlyphs" fill="#262626" stroke="#262626" stroke-width="0.18">1.0</text>
<line x1="413.10" y1="367.42" x2="416.50" y2="367.42" stroke="#5a5a5a" stroke-width="0.9"/>
<text x="397.86" y="370.72" font-size="8.35" textLength="12.64" lengthAdjust="spacingAndGlyphs" fill="#262626" stroke="#262626" stroke-width="0.18">1.2</text>
<line x1="413.10" y1="341.24" x2="416.50" y2="341.24" stroke="#5a5a5a" stroke-width="0.9"/>
<text x="397.86" y="344.54" font-size="8.35" textLength="12.64" lengthAdjust="spacingAndGlyphs" fill="#262626" stroke="#262626" stroke-width="0.18">1.4</text>
<line x1="413.10" y1="315.06" x2="416.50" y2="315.06" stroke="#5a5a5a" stroke-width="0.9"/>
<text x="397.86" y="318.36" font-size="8.35" textLength="12.64" lengthAdjust="spacingAndGlyphs" fill="#262626" stroke="#262626" stroke-width="0.18">1.6</text>
<line x1="460.60" y1="524.50" x2="460.60" y2="527.90" stroke="#5a5a5a" stroke-width="0.9"/>
<text x="450.95" y="537.00" font-size="8.35" textLength="19.30" lengthAdjust="spacingAndGlyphs" fill="#262626" stroke="#262626" stroke-width="0.18">−1.0</text>
<line x1="511.40" y1="524.50" x2="511.40" y2="527.90" stroke="#5a5a5a" stroke-width="0.9"/>
<text x="501.75" y="537.00" font-size="8.35" textLength="19.30" lengthAdjust="spacingAndGlyphs" fill="#262626" stroke="#262626" stroke-width="0.18">−0.5</text>
<line x1="562.20" y1="524.50" x2="562.20" y2="527.90" stroke="#5a5a5a" stroke-width="0.9"/>
<text x="555.88" y="537.00" font-size="8.35" textLength="12.64" lengthAdjust="spacingAndGlyphs" fill="#262626" stroke="#262626" stroke-width="0.18">0.0</text>
<line x1="613.00" y1="524.50" x2="613.00" y2="527.90" stroke="#5a5a5a" stroke-width="0.9"/>
<text x="606.68" y="537.00" font-size="8.35" textLength="12.64" lengthAdjust="spacingAndGlyphs" fill="#262626" stroke="#262626" stroke-width="0.18">0.5</text>
<line x1="663.80" y1="524.50" x2="663.80" y2="527.90" stroke="#5a5a5a" stroke-width="0.9"/>
<text x="657.48" y="537.00" font-size="8.35" textLength="12.64" lengthAdjust="spacingAndGlyphs" fill="#262626" stroke="#262626" stroke-width="0.18">1.0</text>
<text x="394.4" y="398.4" font-size="13.4" text-anchor="middle" transform="rotate(-90 394.4 398.4)" fill="#111">frequency</text>
<text x="559.2" y="549.3" font-size="13.4" text-anchor="middle" fill="#111">log-growth rate g(τ=10)</text>
<text x="374.4" y="297.4" font-size="9.5" fill="#222" stroke="#222" stroke-width="0.15">(d)</text>
</svg>
</body></html>
